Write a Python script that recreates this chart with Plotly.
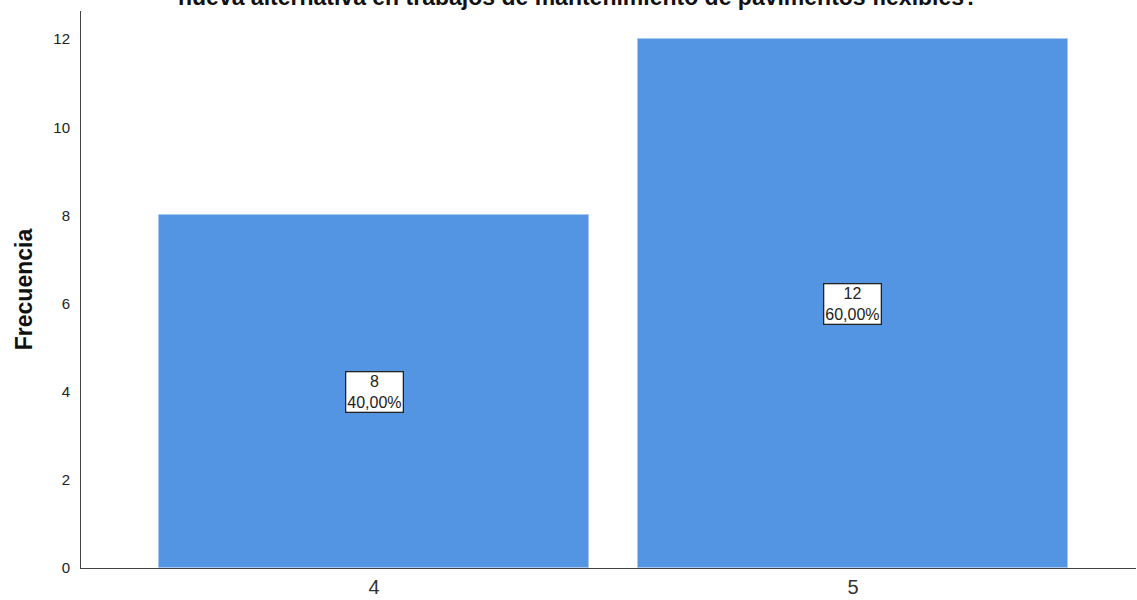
import plotly.graph_objects as go

categories = ["4", "5"]
frequencies = [8, 12]
percent_labels = ["40,00%", "60,00%"]
title_text = "nueva alternativa en trabajos de mantenimiento de pavimentos flexibles?"
y_ticks = [0, 2, 4, 6, 8, 10, 12]

fig = go.Figure()
fig.add_trace(go.Bar(
    x=categories, y=frequencies, width=0.898,
    marker=dict(color="#5495E3", line=dict(color="#A9C9F2", width=1)),
    hoverinfo="skip", showlegend=False,
))

for i, (f, p) in enumerate(zip(frequencies, percent_labels)):
    fig.add_annotation(
        x=i, y=f / 2, xref="x", yref="y",
        text=f"{f}<br>{p}", showarrow=False,
        font=dict(family="Liberation Sans, Arial", size=16, color="#222222"),
        bgcolor="white", bordercolor="#222222", borderwidth=1.3, borderpad=1,
        align="center",
    )

fig.add_annotation(
    x=0.471, y=1.025, xref="paper", yref="paper",
    xanchor="center", yanchor="middle",
    text=f"<b>{title_text}</b>", showarrow=False,
    font=dict(family="Liberation Sans, Arial", size=23, color="#111111"),
)

fig.update_layout(
    width=1137, height=600,
    margin=dict(l=81, r=1, t=11, b=32, autoexpand=False),
    paper_bgcolor="white", plot_bgcolor="white",
    bargap=0,
    font=dict(family="Liberation Sans, Arial"),
    xaxis=dict(
        type="category", range=[-0.612, 1.591], automargin=False,
        showline=True, linecolor="#444444", linewidth=1,
        ticks="", showgrid=False, zeroline=False,
        tickfont=dict(size=20, color="#333333"),
        ticklabelstandoff=1,
    ),
    yaxis=dict(
        range=[0, 12.64], tickvals=y_ticks, automargin=False,
        showline=True, linecolor="#444444", linewidth=1,
        ticks="", showgrid=False, zeroline=False,
        tickfont=dict(size=15, color="#222222"),
        ticklabelstandoff=7,
        title=dict(text="<b>Frecuencia</b>", font=dict(size=23, color="#111111"), standoff=14),
    ),
)

fig.write_html("out.html")
